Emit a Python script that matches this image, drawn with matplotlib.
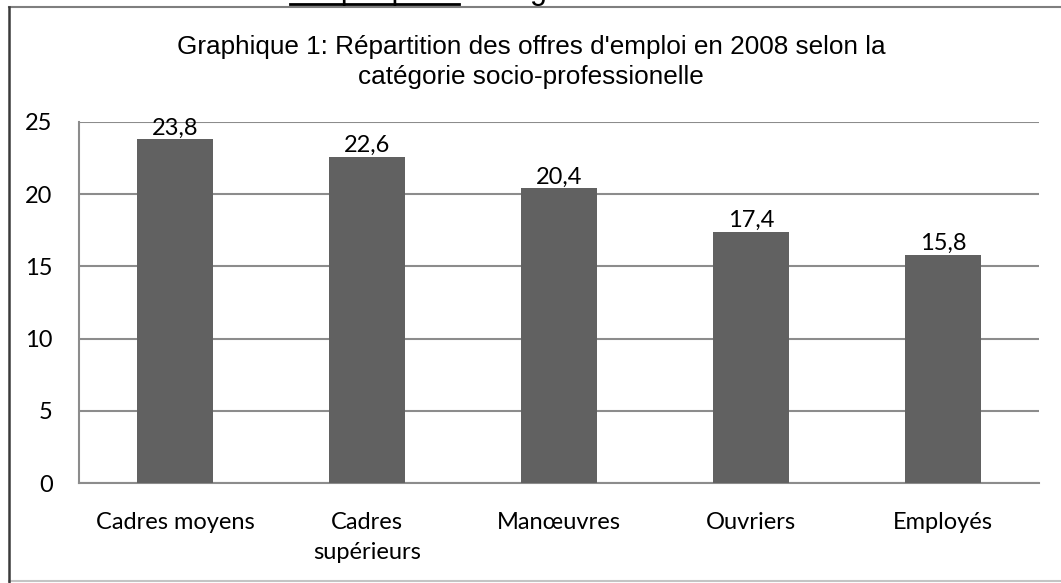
import numpy as np
import matplotlib
matplotlib.use("Agg")
import matplotlib.pyplot as plt
from matplotlib.lines import Line2D

categories = ["Cadres moyens", "Cadres\nsupérieurs", "Manœuvres", "Ouvriers", "Employés"]
values = [23.8, 22.6, 20.4, 17.4, 15.8]
yticks = [0, 5, 10, 15, 20, 25]
title = "Graphique 1: Répartition des offres d'emploi en 2008 selon la\ncatégorie socio-professionelle"

W, H = 1061, 583
fig = plt.figure(figsize=(W / 100, H / 100), dpi=100)

# cadre du graphique (pas de bord droit, coupe)
fig.add_artist(Line2D([9 / W, 1], [1 - 7 / H, 1 - 7 / H], transform=fig.transFigure,
                      color="#7f7f7f", lw=1.5))
fig.add_artist(Line2D([9 / W, 1], [2 / H, 2 / H], transform=fig.transFigure,
                      color="#c4c4c4", lw=1.5))
fig.add_artist(Line2D([9 / W, 9 / W], [0, 1 - 7 / H], transform=fig.transFigure,
                      color="#3a3a3a", lw=1.8))

# texte du document coupe en haut
fig.text(290 / W, 1 + 1 / H, "Graphique 1", fontsize=22, family="Liberation Sans",
         va="baseline", ha="left")
fig.text(459 / W, 1 + 1 / H, " : Diagramme en bâtons", fontsize=22,
         family="Liberation Sans", va="baseline", ha="left")
fig.add_artist(Line2D([290 / W, 459 / W], [1 - 4 / H, 1 - 4 / H],
                      transform=fig.transFigure, color="black", lw=2))

fig.text(531 / W, 1 - 62 / H, title, fontsize=18.8, family="Liberation Sans",
         ha="center", va="center", linespacing=1.27)

ax = fig.add_axes([79 / W, 1 - 483 / H, (1039 - 79) / W, (483 - 122) / H])
x = np.arange(len(categories))
bars = ax.bar(x, values, width=0.4, color="#616161", zorder=3)
ax.set_xlim(-0.5, len(categories) - 0.5)
ax.set_ylim(0, 25)
ax.set_yticks(yticks)
ax.yaxis.grid(True, color="#8c8c8c", lw=1.5, zorder=0)
ax.set_xticks(x)
ax.set_xticklabels(categories, family="Lato", fontsize=17, linespacing=1.5)
ax.set_yticklabels([str(t) for t in yticks], family="Lato", fontsize=17)
ax.tick_params(length=0)
ax.tick_params(axis="y", pad=19)
ax.tick_params(axis="x", pad=21)
for s in ["top", "right"]:
    ax.spines[s].set_visible(False)
for s in ["left", "bottom"]:
    ax.spines[s].set_color("#8c8c8c")
    ax.spines[s].set_linewidth(1.5)

for b, v in zip(bars, values):
    ax.text(b.get_x() + b.get_width() / 2, v + 0.05, f"{v:.1f}".replace(".", ","),
            ha="center", va="bottom", family="Lato", fontsize=17)

fig.savefig("out.png", dpi=100)
